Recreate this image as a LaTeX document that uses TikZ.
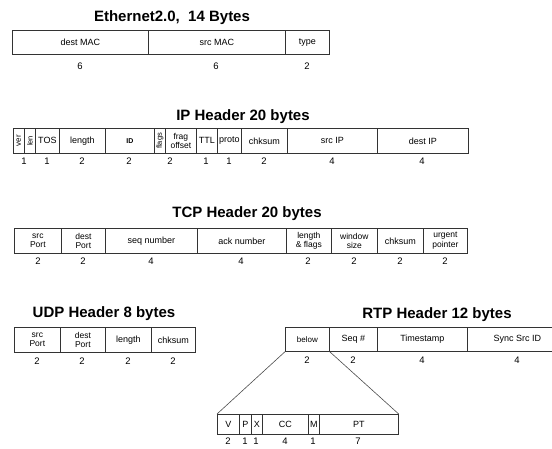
\documentclass[tikz,border=0pt]{standalone}
\usepackage{fontspec}
\setmainfont{Liberation Sans}
\usetikzlibrary{calc}

\begin{document}
\begin{tikzpicture}[x=1pt,y=-1pt,
  fld/.style={draw=black!80, line width=0.7pt, inner sep=0pt, anchor=north west,
    minimum height=25pt, align=center, font=\fontsize{9}{9}\selectfont},
  subfld/.style={fld, minimum height=20pt},
  two/.style={font=\fontsize{8.5}{9.5}\selectfont},
  ttl/.style={font=\bfseries\fontsize{15}{16}\selectfont, inner sep=0pt},
  num/.style={font=\fontsize{9.5}{10}\selectfont, inner sep=0pt}]
  \useasboundingbox (0,0) rectangle (552,448);
  \clip (0,0) rectangle (552,448);

  % Ethernet
  \node [ttl] (ethT) at (172,18) {Ethernet2.0, \ 14 Bytes};
  \node [fld, minimum width=136pt, minimum height=24pt] (edst) at (12,30) {dest MAC};
  \node [fld, minimum width=137pt, minimum height=24pt] (esrc) at (148,30) {src MAC};
  \node [fld, minimum width=44pt, minimum height=24pt] (etyp) at (285,30) {type};
  \node [num] (en1) at (80,66) {6};
  \node [num] (en2) at (216,66) {6};
  \node [num] (en3) at (307,66) {2};

  % IP
  \node [ttl] (ipT) at (243,117) {IP Header 20 bytes};
  \node [fld, minimum width=11pt] (iver) at (13,128) {\rotatebox{90}{\fontsize{8}{8}\selectfont ver}};
  \node [fld, minimum width=11pt] (ilen) at (24,128) {\rotatebox{90}{\fontsize{7.5}{8}\selectfont len}};
  \node [fld, minimum width=24pt] (itos) at (35,128) {TOS};
  \node [fld, minimum width=46pt] (ilng) at (59,128) {length};
  \node [fld, minimum width=49pt, font=\bfseries\fontsize{7}{7}\selectfont] (iid) at (105,128) {ID};
  \node [fld, minimum width=11pt] (iflg) at (154,128) {\rotatebox{90}{\fontsize{7.5}{8}\selectfont flags}};
  \node [fld, two, minimum width=31pt] (ifrg) at (165,128) {frag\\offset};
  \node [fld, minimum width=21pt] (ittl) at (196,128) {TTL};
  \node [fld, minimum width=24pt] (iprt) at (217,128) {proto};
  \node [fld, minimum width=46pt] (ichk) at (241,128) {chksum};
  \node [fld, minimum width=90pt] (isrc) at (287,128) {src IP};
  \node [fld, minimum width=91pt] (idst) at (377,128) {dest IP};
  \node [num] (in1) at (24,161) {1};
  \node [num] (in2) at (47,161) {1};
  \node [num] (in3) at (82,161) {2};
  \node [num] (in4) at (129,161) {2};
  \node [num] (in5) at (170,161) {2};
  \node [num] (in6) at (206,161) {1};
  \node [num] (in7) at (229,161) {1};
  \node [num] (in8) at (264,161) {2};
  \node [num] (in9) at (332,161) {4};
  \node [num] (in10) at (422,161) {4};

  % TCP
  \node [ttl] (tcpT) at (247,214) {TCP Header 20 bytes};
  \node [fld, two, minimum width=47pt] (tsrc) at (14,228) {src\\Port};
  \node [fld, two, minimum width=44pt] (tdst) at (61,228) {dest\\Port};
  \node [fld, minimum width=92pt] (tseq) at (105,228) {seq number};
  \node [fld, minimum width=89pt] (tack) at (197,228) {ack number};
  \node [fld, two, minimum width=45pt] (tlen) at (286,228) {length\\\& flags};
  \node [fld, two, minimum width=46pt] (twin) at (331,228) {window\\size};
  \node [fld, minimum width=46pt] (tchk) at (377,228) {chksum};
  \node [fld, two, minimum width=44pt] (turg) at (423,228) {urgent\\pointer};
  \node [num] (tn1) at (38,261) {2};
  \node [num] (tn2) at (83,261) {2};
  \node [num] (tn3) at (151,261) {4};
  \node [num] (tn4) at (241,261) {4};
  \node [num] (tn5) at (308,261) {2};
  \node [num] (tn6) at (354,261) {2};
  \node [num] (tn7) at (400,261) {2};
  \node [num] (tn8) at (445,261) {2};

  % UDP
  \node [ttl] (udpT) at (104,314) {UDP Header 8 bytes};
  \node [fld, two, minimum width=46pt] (usrc) at (14,327) {src\\Port};
  \node [fld, two, minimum width=45pt] (udst) at (60,327) {dest\\Port};
  \node [fld, minimum width=46pt] (ulen) at (105,327) {length};
  \node [fld, minimum width=44pt] (uchk) at (151,327) {chksum};
  \node [num] (un1) at (37,361) {2};
  \node [num] (un2) at (82,361) {2};
  \node [num] (un3) at (128,361) {2};
  \node [num] (un4) at (173,361) {2};

  % RTP
  \node [ttl] (rtpT) at (437,315) {RTP Header 12 bytes};
  \node [fld, minimum width=44pt, minimum height=24pt, font=\fontsize{8}{8}\selectfont] (rbel) at (285,327) {below};
  \node [fld, minimum width=48pt, minimum height=24pt] (rseq) at (329,327) {Seq \#};
  \node [fld, minimum width=90pt, minimum height=24pt] (rtim) at (377,327) {Timestamp};
  \node [fld, minimum width=100pt, minimum height=24pt] (rsyn) at (467,327) {Sync Src ID};
  \node [num] (rn1) at (307,360) {2};
  \node [num] (rn2) at (353,360) {2};
  \node [num] (rn3) at (422,360) {4};
  \node [num] (rn4) at (517,360) {4};

  % first two bytes of RTP
  \node [subfld, minimum width=22pt] (sv) at (217,414) {V};
  \node [subfld, minimum width=12pt] (sp) at (239,414) {P};
  \node [subfld, minimum width=11pt] (sx) at (251,414) {X};
  \node [subfld, minimum width=46pt] (scc) at (262,414) {CC};
  \node [subfld, minimum width=11pt] (sm) at (308,414) {M};
  \node [subfld, minimum width=79pt] (spt) at (319,414) {PT};
  \node [num] (sn1) at (228,441) {2};
  \node [num] (sn2) at (245,441) {1};
  \node [num] (sn3) at (256,441) {1};
  \node [num] (sn4) at (285,441) {4};
  \node [num] (sn5) at (313,441) {1};
  \node [num] (sn6) at (358,441) {7};

  \draw [black!70, line width=0.6pt] (rbel.south west) -- (sv.north west);
  \draw [black!70, line width=0.6pt] (rbel.south east) -- (spt.north east);
\end{tikzpicture}
\end{document}
